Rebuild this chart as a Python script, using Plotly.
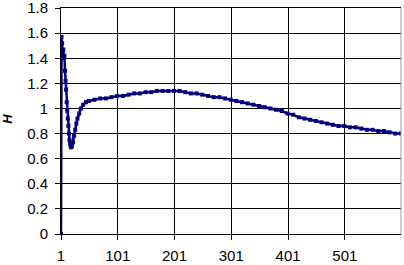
import plotly.graph_objects as go

x_vals = [1, 2, 3, 4, 5, 6, 7, 8, 9, 10, 11, 12, 13, 14, 15, 16, 17, 18, 19, 20,
          22, 24, 26, 28, 30, 33, 36, 40, 45, 50, 60, 70, 80, 90, 100,
          110, 120, 130, 140, 150, 160, 170, 180, 190, 200, 210, 220, 230, 240, 250,
          260, 270, 280, 290, 300, 310, 320, 330, 340, 350, 360, 370, 380, 390, 400,
          410, 420, 430, 440, 450, 460, 470, 480, 490, 500, 510, 520, 530, 540, 550,
          560, 570, 580, 590, 600]
h_vals = [0.0, 1.57, 1.52, 1.45, 1.47, 1.40, 1.42, 1.30, 1.22, 1.15, 1.05, 0.98, 0.92, 0.86, 0.80, 0.75, 0.72, 0.70, 0.69, 0.70,
          0.73, 0.78, 0.83, 0.88, 0.92, 0.96, 1.00, 1.03, 1.05, 1.06, 1.07, 1.08, 1.08, 1.09, 1.10,
          1.10, 1.11, 1.12, 1.12, 1.13, 1.13, 1.14, 1.14, 1.14, 1.14, 1.14, 1.13, 1.12, 1.12, 1.11,
          1.10, 1.09, 1.09, 1.08, 1.07, 1.06, 1.05, 1.04, 1.03, 1.02, 1.01, 1.00, 0.99, 0.98, 0.96,
          0.95, 0.93, 0.92, 0.91, 0.90, 0.89, 0.88, 0.87, 0.86, 0.86, 0.85, 0.85, 0.84, 0.83, 0.83,
          0.82, 0.82, 0.81, 0.80, 0.80]
x_ticks = [1, 101, 201, 301, 401, 501]
y_ticks = [0, 0.2, 0.4, 0.6, 0.8, 1, 1.2, 1.4, 1.6, 1.8]
y_tick_text = ["0", "0.2", "0.4", "0.6", "0.8", "1", "1.2", "1.4", "1.6", "1.8"]

fig = go.Figure()
fig.add_trace(go.Scatter(
    x=x_vals, y=h_vals, mode="lines+markers",
    line=dict(color="#000080", width=2.5),
    marker=dict(symbol="square", size=4, color="#000080"),
    showlegend=False,
))

fig.update_layout(
    width=404, height=265,
    margin=dict(l=61, r=3, t=8, b=31),
    paper_bgcolor="white", plot_bgcolor="white",
    font=dict(family="Liberation Sans, Arial", size=15, color="black"),
)
fig.update_xaxes(
    range=[0.99, 600], tickvals=x_ticks, ticktext=[str(v) for v in x_ticks],
    showgrid=True, gridcolor="black", gridwidth=1,
    showline=True, linecolor="black", linewidth=1, mirror=True,
    ticks="outside", ticklen=5, tickcolor="black", zeroline=False,
    automargin=False, ticklabelstandoff=3, ticklabeloverflow="allow",
)
fig.update_yaxes(
    range=[0, 1.8005], tickvals=y_ticks, ticktext=y_tick_text,
    showgrid=True, gridcolor="black", gridwidth=1,
    showline=True, linecolor="black", linewidth=1,
    ticks="outside", ticklen=5, tickcolor="black", zeroline=False,
    automargin=False, ticklabeloverflow="allow", ticklabelstandoff=4,
)
fig.add_annotation(text="<b><i>H</i></b>", xref="paper", yref="paper",
                   x=-0.156, xanchor="center", y=0.51, yanchor="middle",
                   showarrow=False, textangle=-90, font=dict(size=13))
fig.add_shape(type="line", xref="paper", yref="paper", x0=1, x1=1, y0=0, y1=1,
              line=dict(color="#999999", width=1))

fig.write_html("out.html", config={"displayModeBar": False},
               post_script="document.body.style.margin='0';")
